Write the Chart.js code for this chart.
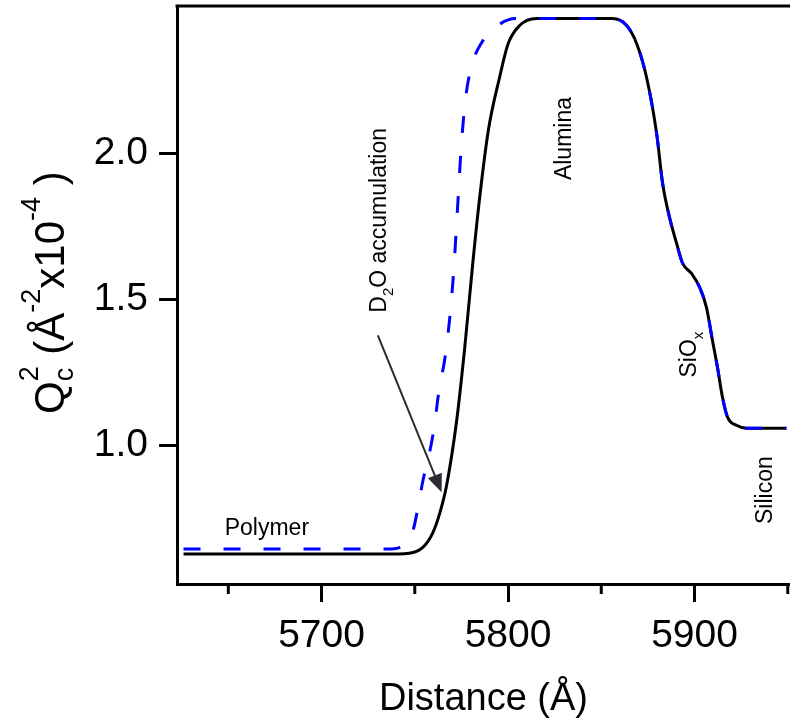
<!DOCTYPE html>
<html>
<head>
<meta charset="utf-8">
<script src="https://cdn.jsdelivr.net/npm/chart.js@4"></script>
<style>
  html, body { margin: 0; padding: 0; background: #fff; }
  canvas { display: block; }
</style>
</head>
<body>
<canvas id="profile" width="790" height="723"></canvas>
<script>
// black solid profile
const blackDist = [5626, 5733, 5747, 5754, 5759.6, 5763.4, 5767, 5772.5, 5776.8, 5781.1, 5784.8, 5789.5, 5795.5, 5800, 5806.2, 5815.3,
  5856.1, 5863.6, 5869, 5874.3, 5879.7, 5882.9, 5886.6, 5890.4, 5893.6, 5898.4, 5902.7, 5906.4, 5909.6, 5912.3, 5915, 5917.7, 5922.5, 5927.9, 5949.3];
const blackQc2 = [0.627, 0.627, 0.630, 0.648, 0.699, 0.767, 0.86, 1.086, 1.335, 1.623, 1.848, 2.08, 2.26, 2.374, 2.437, 2.461,
  2.461, 2.437, 2.375, 2.259, 2.067, 1.896, 1.780, 1.691, 1.623, 1.588, 1.541, 1.472, 1.359, 1.267, 1.164, 1.096, 1.068, 1.058, 1.058];

// blue dashed profile (D2O)
const blueDist = [5626, 5735, 5743.6, 5749.1, 5751.8, 5754.4, 5757.1, 5760.7, 5762.5, 5767, 5770.5, 5773, 5775, 5777.5, 5781, 5786, 5792, 5804,
  5856.1, 5863.6, 5869, 5874.3, 5879.7, 5882.9, 5886.6, 5890.4, 5893.6, 5898.4, 5902.7, 5906.4, 5909.6, 5912.3, 5915, 5917.7, 5922.5, 5927.9, 5949.3];
const blueQc2 = [0.644, 0.644, 0.654, 0.709, 0.789, 0.880, 0.949, 1.074, 1.165, 1.336, 1.564, 1.82, 2.03, 2.2, 2.31, 2.38, 2.425, 2.461,
  2.461, 2.437, 2.375, 2.259, 2.067, 1.896, 1.780, 1.691, 1.623, 1.588, 1.541, 1.472, 1.359, 1.267, 1.164, 1.096, 1.068, 1.058, 1.058];

const xMajor = [5700, 5800, 5900];
const xMinor = [5650, 5750, 5850, 5950];
const yMajor = [1.0, 1.5, 2.0];

// text labels, placed in data space
const notes = [
  { parts: [['Polymer', 0]], x: 5670.7, y: 0.72, rot: false },
  { parts: [['D', 0], ['2', 1], ['O accumulation', 0]], x: 5730.2, y: 1.77, rot: true },
  { parts: [['Alumina', 0]], x: 5829.2, y: 2.05, rot: true },
  { parts: [['SiO', 0], ['x', 1]], x: 5896.2, y: 1.31, rot: true },
  { parts: [['Silicon', 0]], x: 5937, y: 0.846, rot: true }
];
const arrowFrom = [5730.2, 1.376];
const arrowTo = [5764.4, 0.839];

const FONT = '"Liberation Sans", Arial, sans-serif';
Chart.defaults.font.family = FONT;
Chart.defaults.color = '#000';

function toXY(xs, ys) { return xs.map((v, i) => ({ x: v, y: ys[i] })); }

function drawParts(ctx, parts, size, cx, cy, rot) {
  // parts: [text, kind] kind 0 normal, 1 subscript
  const w = parts.map(p => {
    ctx.font = (p[1] ? Math.round(size * 0.65) : size) + 'px ' + FONT;
    return ctx.measureText(p[0]).width;
  });
  const total = w.reduce((a, b) => a + b, 0);
  ctx.save();
  ctx.translate(cx, cy);
  if (rot) ctx.rotate(-Math.PI / 2);
  ctx.textBaseline = 'alphabetic';
  ctx.textAlign = 'left';
  let pos = -total / 2;
  parts.forEach((p, i) => {
    ctx.font = (p[1] ? Math.round(size * 0.65) : size) + 'px ' + FONT;
    ctx.fillText(p[0], pos, size * 0.36 + (p[1] ? size * 0.3 : 0));
    pos += w[i];
  });
  ctx.restore();
}

function noPad(s) {
  s.paddingTop = 0; s.paddingBottom = 0; s.paddingLeft = 0; s.paddingRight = 0;
}

const overlay = {
  id: 'overlay',
  afterDraw(chart) {
    const { ctx, chartArea, scales: { x, y } } = chart;
    ctx.save();
    ctx.strokeStyle = '#000';
    ctx.lineWidth = 3;
    // top frame line
    ctx.beginPath();
    ctx.moveTo(chartArea.left - 1.5, chartArea.top);
    ctx.lineTo(chart.width, chartArea.top);
    ctx.stroke();
    // minor ticks
    xMinor.forEach(v => {
      const px = x.getPixelForValue(v);
      ctx.beginPath();
      ctx.moveTo(px, chartArea.bottom);
      ctx.lineTo(px, chartArea.bottom + 10);
      ctx.stroke();
    });

    ctx.fillStyle = '#000';
    notes.forEach(n => drawParts(ctx, n.parts, 23, x.getPixelForValue(n.x), y.getPixelForValue(n.y), n.rot));

    // arrow
    const x1 = x.getPixelForValue(arrowFrom[0]), y1 = y.getPixelForValue(arrowFrom[1]);
    const x2 = x.getPixelForValue(arrowTo[0]), y2 = y.getPixelForValue(arrowTo[1]);
    const a = Math.atan2(y2 - y1, x2 - x1);
    ctx.strokeStyle = '#2b2b33';
    ctx.fillStyle = '#2b2b33';
    ctx.lineWidth = 2;
    ctx.beginPath();
    ctx.moveTo(x1, y1);
    ctx.lineTo(x2 - 12 * Math.cos(a), y2 - 12 * Math.sin(a));
    ctx.stroke();
    ctx.beginPath();
    ctx.moveTo(x2, y2);
    ctx.lineTo(x2 - 18 * Math.cos(a) + 7.5 * Math.sin(a), y2 - 18 * Math.sin(a) - 7.5 * Math.cos(a));
    ctx.lineTo(x2 - 18 * Math.cos(a) - 7.5 * Math.sin(a), y2 - 18 * Math.sin(a) + 7.5 * Math.cos(a));
    ctx.closePath();
    ctx.fill();

    // y axis title: Qc^2 (Å^-2 x10^-4 )
    const big = 42, small = 27;
    const bx = 64, startY = 414;
    ctx.fillStyle = '#000';
    ctx.translate(bx, startY);
    ctx.rotate(-Math.PI / 2);
    ctx.textBaseline = 'alphabetic';
    let p = 0;
    const put = (t, s, dy, adv) => {
      ctx.font = s + 'px ' + FONT;
      ctx.fillText(t, p, dy);
      const w = ctx.measureText(t).width;
      if (adv) p += w;
      return w;
    };
    put('Q', big, 0, true);
    const wc = put('c', small, 9, false);
    const w2 = put('2', small, -26, false);
    p += Math.max(wc, w2);
    put(' (', big, 0, true);
    put('Å', big, 0, true);
    put('-2', small, -24, true);
    put('x10', big, 0, true);
    put('-4', small, -24, true);
    put(' )', big, 0, true);
    ctx.restore();
  }
};

new Chart(document.getElementById('profile').getContext('2d'), {
  type: 'line',
  data: {
    datasets: [
      {
        data: toXY(blueDist, blueQc2),
        borderColor: '#0000ff',
        borderWidth: 3,
        borderDash: [17, 23],
        pointRadius: 0,
        cubicInterpolationMode: 'monotone',
        fill: false
      },
      {
        data: toXY(blackDist, blackQc2),
        borderColor: '#000000',
        borderWidth: 3,
        pointRadius: 0,
        cubicInterpolationMode: 'monotone',
        fill: false
      }
    ]
  },
  options: {
    responsive: false,
    animation: false,
    devicePixelRatio: 1,
    layout: { padding: { top: 6, right: 0, left: 0, bottom: 0 } },
    plugins: { legend: { display: false }, tooltip: { enabled: false } },
    scales: {
      x: {
        type: 'linear',
        min: 5622.5,
        max: 5951.2,
        afterBuildTicks: s => { s.ticks = xMajor.map(v => ({ value: v })); },
        afterFit: s => { s.height = 139; noPad(s); },
        ticks: { font: { size: 39 }, color: '#000', padding: 11, maxRotation: 0, callback: v => String(v) },
        grid: { drawOnChartArea: false, tickLength: 18, tickWidth: 3, tickColor: '#000' },
        border: { width: 3, color: '#000' },
        title: { display: true, text: 'Distance (Å)', font: { size: 38 }, color: '#000', padding: { top: 0, bottom: 1 } }
      },
      y: {
        type: 'linear',
        min: 0.5245,
        max: 2.504,
        afterBuildTicks: s => { s.ticks = yMajor.map(v => ({ value: v })); },
        afterFit: s => { s.width = 177; noPad(s); },
        ticks: { font: { size: 39 }, color: '#000', padding: 11, callback: v => v.toFixed(1) },
        grid: { drawOnChartArea: false, tickLength: 18, tickWidth: 3, tickColor: '#000' },
        border: { width: 3, color: '#000' }
      }
    }
  },
  plugins: [overlay]
});
</script>
</body>
</html>
